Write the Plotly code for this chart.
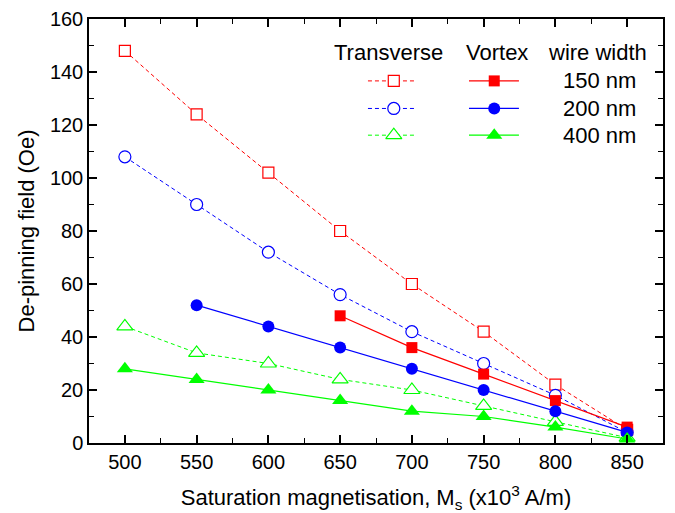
import plotly.graph_objects as go

ms = [500, 550, 600, 650, 700, 750, 800, 850]
trans_150 = [148, 124, 102, 80, 60, 42, 22, 5]
trans_200 = [108, 90, 72, 56, 42, 30, 18, 4]
trans_400 = [44, 34, 30, 24, 20, 14, 8, 2]
vort_150_x = [650, 700, 750, 800, 850]
vort_150 = [48, 36, 26, 16, 6]
vort_200_x = [550, 600, 650, 700, 750, 800, 850]
vort_200 = [52, 44, 36, 28, 20, 12, 4]
vort_400 = [28, 24, 20, 16, 12, 10, 6, 1.5]

widths = ["150 nm", "200 nm", "400 nm"]
colors = ["#FF0000", "#0000FF", "#00FF00"]
base_sym = ["square", "circle", "triangle-up"]
sizes = [11, 12, 14]

FONT = "Liberation Sans, Arial, sans-serif"
fig = go.Figure()

trans = [(ms, trans_150), (ms, trans_200), (ms, trans_400)]
vort = [(vort_150_x, vort_150), (vort_200_x, vort_200), (ms, vort_400)]
DASH = "4px,3px"

for i in range(3):
    x, y = trans[i]
    fig.add_trace(go.Scatter(x=x, y=y, mode="lines+markers",
                             line=dict(color=colors[i], width=1, dash=DASH),
                             marker=dict(symbol=base_sym[i], size=sizes[i], color="white",
                                         line=dict(width=1.2, color=colors[i])),
                             showlegend=False, cliponaxis=False))
for i in range(3):
    x, y = vort[i]
    fig.add_trace(go.Scatter(x=x, y=y, mode="lines+markers",
                             line=dict(color=colors[i], width=1.2),
                             marker=dict(symbol=base_sym[i], size=sizes[i], color=colors[i]),
                             showlegend=False, cliponaxis=False))

# legend samples on an overlay axis (0..1 over the plot area)
row_y = [0.854, 0.789, 0.726]
for i in range(3):
    fig.add_trace(go.Scatter(x=[0.486, 0.531, 0.571], y=[row_y[i]] * 3, mode="lines",
                             line=dict(color=colors[i], width=1, dash=DASH),
                             xaxis="x2", yaxis="y2", showlegend=False, hoverinfo="skip"))
    fig.add_trace(go.Scatter(x=[0.531], y=[row_y[i]], mode="markers",
                             marker=dict(symbol=base_sym[i], size=sizes[i], color="white",
                                         line=dict(width=1.2, color=colors[i])),
                             xaxis="x2", yaxis="y2", showlegend=False, hoverinfo="skip"))
    fig.add_trace(go.Scatter(x=[0.662, 0.749], y=[row_y[i]] * 2, mode="lines",
                             line=dict(color=colors[i], width=1.2),
                             xaxis="x2", yaxis="y2", showlegend=False, hoverinfo="skip"))
    fig.add_trace(go.Scatter(x=[0.706], y=[row_y[i]], mode="markers",
                             marker=dict(symbol=base_sym[i], size=sizes[i], color=colors[i]),
                             xaxis="x2", yaxis="y2", showlegend=False, hoverinfo="skip"))
    fig.add_annotation(x=0.890, y=row_y[i], xref="x2", yref="y2", text=widths[i],
                       showarrow=False, font=dict(family=FONT, size=22, color="black"))

for txt, xx in [("Transverse", 0.522), ("Vortex", 0.711), ("wire width", 0.886)]:
    fig.add_annotation(x=xx, y=0.920, xref="x2", yref="y2", text=txt, showarrow=False,
                       font=dict(family=FONT, size=22, color="black"))

axis_common = dict(showline=True, linecolor="black", linewidth=1.5, mirror="ticks",
                   ticks="inside", ticklen=8, tickwidth=1.5, tickcolor="black",
                   showgrid=False, zeroline=False, automargin=False,
                   tickfont=dict(family=FONT, size=20, color="black"))

fig.update_layout(
    width=675, height=513,
    margin=dict(l=81, r=20, t=11, b=78),
    paper_bgcolor="white", plot_bgcolor="white",
    xaxis=dict(range=[475, 875], tickvals=ms, **axis_common,
               minor=dict(ticks="inside", ticklen=5, tickwidth=1.2, tickcolor="black", dtick=25),
               title=dict(text="Saturation magnetisation, M<sub>s</sub> (x10<sup>3</sup> A/m)",
                          font=dict(family=FONT, size=22, color="black"), standoff=18)),
    yaxis=dict(range=[0, 160], dtick=20, **axis_common,
               minor=dict(ticks="inside", ticklen=5, tickwidth=1.2, tickcolor="black", dtick=10),
               title=dict(text="De-pinning field (Oe)",
                          font=dict(family=FONT, size=22, color="black"), standoff=9)),
    xaxis2=dict(range=[0, 1], overlaying="x", visible=False),
    yaxis2=dict(range=[0, 1], overlaying="y", visible=False),
)

fig.write_html("out.html")
